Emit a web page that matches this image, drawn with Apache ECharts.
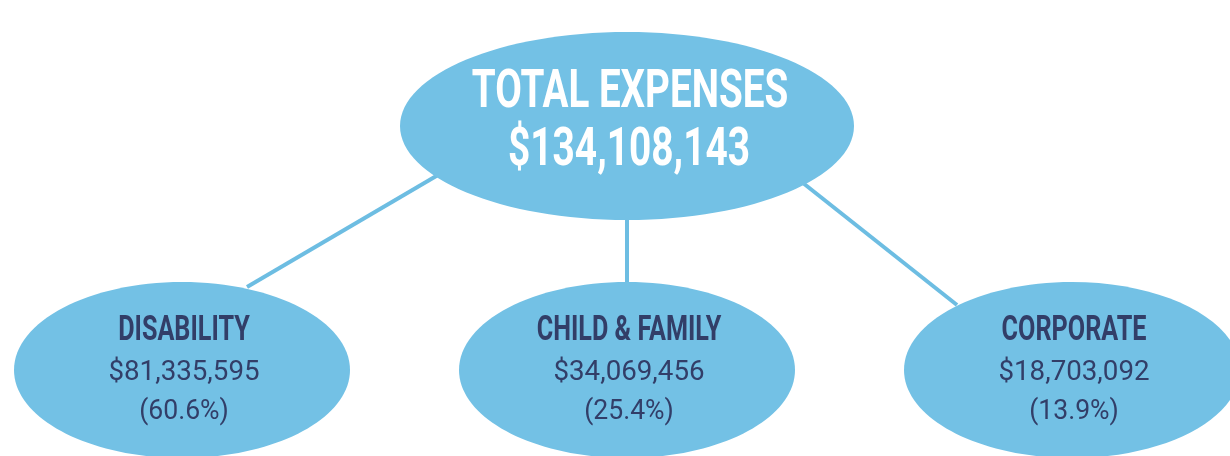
<!DOCTYPE html>
<html>
	<head>
		<meta charset="utf-8">
		<title>Total expenses</title>
		<script src="https://cdn.jsdelivr.net/npm/echarts@6/dist/echarts.min.js"></script>
		<style>
			html, body { margin: 0; padding: 0; background: #fff; }
		</style>
	</head>

	<body>
		<div id="main" style="width: 1230px; height: 456px;"></div>
		<script type="text/javascript">
			// values
			var topLabel = 'TOTAL EXPENSES';
			var totalAmount = 134108143;
			var categories = ['DISABILITY', 'CHILD & FAMILY', 'CORPORATE'];
			var amounts = [81335595, 34069456, 18703092];
			var shares = [60.6, 25.4, 13.9];

			// node positions: x = column, y = level (1 = top, 0 = bottom)
			var topNode = [[1, 1]];
			var childNodes = categories.map(function (c, i) { return [i, 0]; });

			// where each connector leaves the top ellipse / meets the child (px offsets)
			var linkFrom = [[-189, 49], [0, 90], [176, 57]];
			var linkTo = [[65, -83], [0, -86], [-115, -65]];

			var fill = '#73c1e5';
			var lineColor = '#6dbde2';
			var navy = '#323e68';
			var font = 'Roboto';

			function money(v) {
				return '$' + v.toLocaleString('en-US');
			}

			function txt(x, y, s, size, weight, color, sx) {
				return {
					type: 'text',
					x: x,
					y: y,
					scaleX: sx,
					style: {
						text: s,
						x: 0,
						y: 0,
						fill: color,
						fontFamily: font,
						fontSize: size,
						fontWeight: weight,
						align: 'center',
						verticalAlign: 'middle'
					}
				};
			}

			var myChart = echarts.init(document.getElementById('main'));

			var option = {
				animation: false,
				grid: { left: 182, right: 158, top: 126, bottom: 86 },
				xAxis: { type: 'value', min: 0, max: 2, show: false },
				yAxis: { type: 'value', min: 0, max: 1, show: false },
				series: [
					{
						// connectors
						type: 'custom',
						z: 1,
						data: childNodes,
						renderItem: function (params, api) {
							var i = params.dataIndex;
							var p0 = api.coord(topNode[0]);
							var p1 = api.coord([api.value(0), api.value(1)]);
							return {
								type: 'line',
								shape: {
									x1: p0[0] + linkFrom[i][0],
									y1: p0[1] + linkFrom[i][1],
									x2: p1[0] + linkTo[i][0],
									y2: p1[1] + linkTo[i][1]
								},
								style: { stroke: lineColor, lineWidth: 4 }
							};
						}
					},
					{
						// total
						type: 'custom',
						z: 2,
						data: topNode,
						renderItem: function (params, api) {
							var p = api.coord([api.value(0), api.value(1)]);
							return {
								type: 'group',
								children: [
									{ type: 'ellipse', shape: { cx: p[0], cy: p[1], rx: 227, ry: 94 }, style: { fill: fill } },
									txt(p[0] + 3, p[1] - 33, topLabel, 54, 'bold', '#ffffff', 0.715),
									txt(p[0] + 2, p[1] + 25, money(totalAmount), 54, 'bold', '#ffffff', 0.72)
								]
							};
						}
					},
					{
						// categories
						type: 'custom',
						z: 2,
						data: childNodes,
						renderItem: function (params, api) {
							var i = params.dataIndex;
							var p = api.coord([api.value(0), api.value(1)]);
							return {
								type: 'group',
								children: [
									{ type: 'ellipse', shape: { cx: p[0], cy: p[1], rx: 168, ry: 88 }, style: { fill: fill } },
									txt(p[0] + 2, p[1] - 39, categories[i], 35, 'bold', navy, 0.72),
									txt(p[0] + 2, p[1] + 3, money(amounts[i]), 28, 'normal', navy, 0.99),
									txt(p[0] + 2, p[1] + 42, '(' + shares[i].toFixed(1) + '%)', 28, 'normal', navy, 0.95)
								]
							};
						}
					}
				]
			};
			myChart.setOption(option);
		</script>
	</body>
</html>
